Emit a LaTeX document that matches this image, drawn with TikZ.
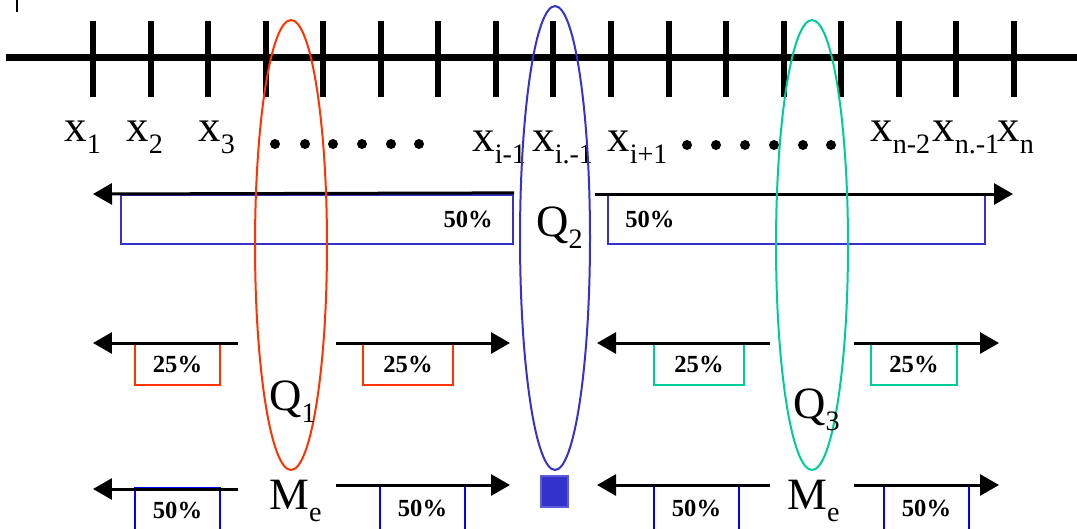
\documentclass[tikz,border=0pt]{standalone}
\usepackage{fontspec}
\setmainfont{Liberation Serif}
\usetikzlibrary{arrows.meta,positioning}
\definecolor{QoneRed}{RGB}{255,51,0}
\definecolor{QtwoBlue}{RGB}{51,51,204}
\definecolor{QthreeGreen}{RGB}{0,204,153}
\definecolor{MedBlue}{RGB}{0,0,255}
\newcommand{\subl}[1]{\raisebox{-0.27em}{\fontsize{16}{16}\selectfont #1}}

\begin{document}
\begin{tikzpicture}[x=0.02cm, y=-0.02cm, >={Triangle[length=0.38cm,width=0.42cm]},
  tick/.style={line width=0.12cm},
  xlab/.style={anchor=base west, inner sep=0pt, font=\fontsize{25.5}{26}\selectfont},
  pct/.style={inner sep=0pt, font=\fontsize{14}{14}\selectfont\bfseries},
  halfbox/.style={draw=QtwoBlue, line width=0.045cm, minimum height=0.98cm, inner sep=0pt},
  qbox/.style={draw=#1, line width=0.045cm, minimum height=0.84cm, inner sep=0pt},
  medbox/.style={draw=MedBlue, line width=0.045cm, minimum width=1.7cm, minimum height=1.06cm, inner sep=0pt},
  oval/.style={line width=0.04cm},
  sig/.style={->, line width=0.06cm}]
  \useasboundingbox (0,0) rectangle (1077,528);
  \clip (0,0) rectangle (1077,528);

  % axis with ticks
  \draw[line width=0.03cm] (17,0) -- (17,12);
  \draw[line width=0.14cm] (6,57) -- (1077,57);
  \foreach \k in {0,...,16}
    \draw[tick] ({93+57.56*\k},21) -- ({93+57.56*\k},97);

  % point labels
  \node[xlab] (xl1) at (64,141)  {x\subl{1}};
  \node[xlab] (xl2) at (126,141) {x\subl{2}};
  \node[xlab] (xl3) at (198,141) {x\subl{3}};
  \node[xlab] (xlim) at (472,151) {x\subl{i-1}};
  \node[xlab] (xli)  at (532,151) {x\subl{i.-1}};
  \node[xlab] (xlip) at (607,151) {x\subl{i+1}};
  \node[xlab] (xlnm) at (870,141) {x\subl{n-2}};
  \node[xlab] (xlnn) at (932,141) {x\subl{n.-1}};
  \node[xlab] (xln)  at (997,141) {x\subl{n}};
  \foreach \d in {275,305,333,362,391,419}
    \fill (\d,144) circle (0.1cm);
  \foreach \d in {687,716,745,774,803,831}
    \fill (\d,145) circle (0.1cm);

  % first split: 50% each side
  \node[halfbox, minimum width=7.84cm] (h1) at (317,219.5) {};
  \node[pct, anchor=east, left=0.42cm of h1.east] (h1p) {50\%};
  \node[halfbox, minimum width=7.54cm] (h2) at (796.5,219.5) {};
  \node[pct, anchor=west, right=0.36cm of h2.west] (h2p) {50\%};
  \coordinate (h1e) at (93,194);
  \coordinate (h2s) at (595,194);
  \coordinate (h2e) at (1013,194);
  \draw[sig] (h1.north east) ++(0,-1) -- (h1e);
  \draw[sig] (h2s) -- (h2e);

  % second split: 25%
  \node[qbox=QoneRed, minimum width=1.7cm] (r1) at (177.5,364) {};
  \node[qbox=QoneRed, minimum width=1.8cm] (r2) at (408,364) {};
  \node[qbox=QthreeGreen, minimum width=1.8cm] (g1) at (699,364) {};
  \node[qbox=QthreeGreen, minimum width=1.72cm] (g2) at (914,364) {};
  \foreach \b in {r1,r2,g1,g2}
    \node[pct] (\b p) at (\b) {25\%};
  \coordinate (r1s) at (238,343); \coordinate (r1e) at (93,343);
  \coordinate (r2s) at (336,343); \coordinate (r2e) at (510,343);
  \coordinate (g1s) at (770,343); \coordinate (g1e) at (597,343);
  \coordinate (g2s) at (854,343); \coordinate (g2e) at (999,343);
  \draw[sig] (r1s) -- (r1e);
  \draw[sig] (r2s) -- (r2e);
  \draw[sig] (g1s) -- (g1e);
  \draw[sig] (g2s) -- (g2e);

  % median split: 50%
  \node[medbox] (m1) at (177.5,514.5) {};
  \node[medbox] (m2) at (422.5,511.5) {};
  \node[medbox] (m3) at (696.5,511.5) {};
  \node[medbox] (m4) at (926.5,511.5) {};
  \node[pct] (m1p) at (177.5,510) {50\%};
  \node[pct] (m2p) at (422.5,508) {50\%};
  \node[pct] (m3p) at (696.5,508) {50\%};
  \node[pct] (m4p) at (926.5,508) {50\%};
  \coordinate (m1s) at (238,489); \coordinate (m1e) at (93,489);
  \coordinate (m2s) at (336,485); \coordinate (m2e) at (510,485);
  \coordinate (m3s) at (770,485); \coordinate (m3e) at (597,485);
  \coordinate (m4s) at (854,485); \coordinate (m4e) at (999,485);
  \draw[sig] (m1s) -- (m1e);
  \draw[sig] (m2s) -- (m2e);
  \draw[sig] (m3s) -- (m3e);
  \draw[sig] (m4s) -- (m4e);
  \node[draw=QtwoBlue!80, fill=QtwoBlue, line width=0.03cm, minimum width=0.54cm,
        minimum height=0.62cm, inner sep=0pt] (mid) at (554.5,491.5) {};

  % quartile ovals
  \draw[oval, QoneRed] (291,245) ellipse [x radius=0.72cm, y radius=4.5cm];
  \draw[oval, QtwoBlue] (555,238) ellipse [x radius=0.7cm, y radius=4.64cm];
  \draw[oval, QthreeGreen] (812,245) ellipse [x radius=0.72cm, y radius=4.5cm];
  \node[xlab] (q1) at (269,410) {Q\subl{1}};
  \node[xlab] (q2) at (536,236) {Q\subl{2}};
  \node[xlab] (q3) at (793,418) {Q\subl{3}};
  \node[xlab] (me1) at (269,509) {M\subl{e}};
  \node[xlab] (me2) at (787,509) {M\subl{e}};
\end{tikzpicture}
\end{document}
